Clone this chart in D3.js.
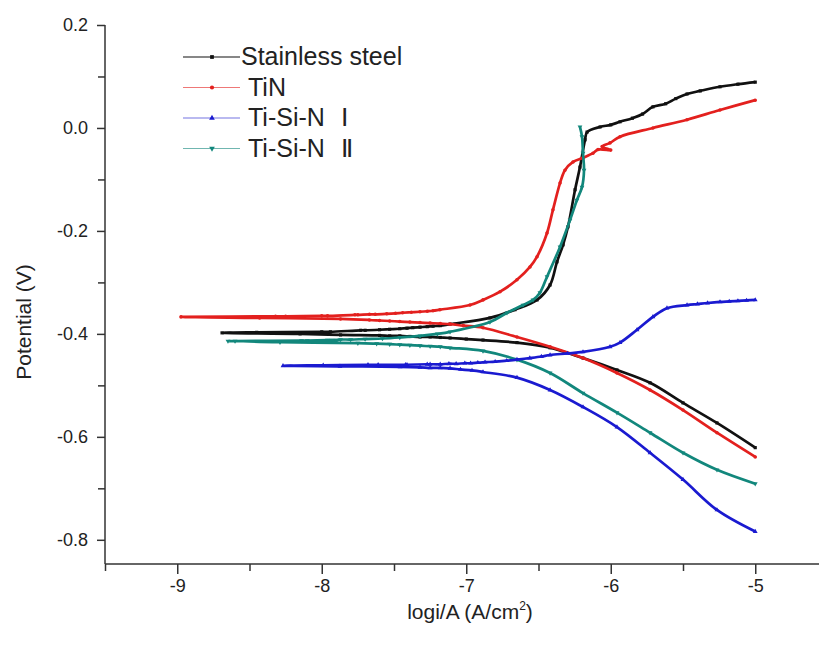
<!DOCTYPE html>
<html>
<head>
<meta charset="utf-8">
<script src="https://cdn.jsdelivr.net/npm/d3@7"></script>
<style>
  body { margin: 0; background: #fff; }
  text { font-family: "Liberation Sans", Arial, sans-serif; fill: #222; }
</style>
</head>
<body>
<svg id="chart" width="819" height="653"></svg>
<script>
// series names shown in the legend (label, roman numeral)
var names = [["Stainless steel", ""], ["TiN", ""], ["Ti-Si-N", "\u2160"], ["Ti-Si-N", "\u2161"]];

var xTicks = [-9, -8, -7, -6, -5];
var yTicks = [-0.8, -0.6, -0.4, -0.2, 0.0, 0.2];

// each curve: cathodic branch from the right end back to Ecorr, then the anodic branch
var steelLogI = [-5.00,-5.265,-5.50,-5.728,-5.957,-6.192,-6.42,-6.649,-6.884,-7.00,-7.112,-7.18,-7.25,-7.32,-7.39,-7.46,-7.53,-7.60,-7.87,-8.15,-8.69,
  -8.45,-8.00,-7.94,-7.73,-7.70,-7.60,-7.53,-7.46,-7.41,-7.37,-7.32,-7.27,-7.23,-7.18,-7.112,-6.836,-6.663,-6.51,-6.42,-6.372,-6.33,-6.296,-6.247,-6.213,-6.178,-6.164,
  -6.074,-6.00,-5.936,-5.85,-5.78,-5.708,-5.62,-5.55,-5.472,-5.38,-5.244,-5.12,-5.00];
var steelE = [-0.621,-0.573,-0.534,-0.495,-0.470,-0.447,-0.427,-0.417,-0.412,-0.410,-0.408,-0.407,-0.406,-0.406,-0.405,-0.404,-0.404,-0.403,-0.402,-0.400,-0.398,
  -0.397,-0.396,-0.396,-0.393,-0.393,-0.392,-0.391,-0.390,-0.389,-0.388,-0.387,-0.386,-0.385,-0.384,-0.381,-0.369,-0.353,-0.334,-0.305,-0.260,-0.227,-0.192,-0.120,-0.076,-0.023,-0.008,
  0.002,0.006,0.012,0.019,0.027,0.041,0.047,0.057,0.066,0.072,0.080,0.085,0.089];

var tinLogI = [-5.00,-5.265,-5.50,-5.728,-5.957,-6.192,-6.42,-6.649,-6.884,-7.02,-7.112,-7.18,-7.25,-7.32,-7.39,-7.46,-7.53,-7.60,-7.67,-7.87,-8.43,-8.974,
  -8.32,-8.25,-8.00,-7.96,-7.77,-7.75,-7.67,-7.63,-7.55,-7.49,-7.44,-7.38,-7.32,-7.27,-7.23,-7.182,-6.974,-6.884,-6.766,-6.649,-6.559,-6.51,-6.441,-6.40,-6.351,-6.317,
  -6.261,-6.192,-6.123,-6.088,-6.00,-6.06,-6.005,-5.936,-5.708,-5.472,-5.244,-5.00];
var tinE = [-0.639,-0.592,-0.548,-0.509,-0.476,-0.447,-0.425,-0.406,-0.388,-0.384,-0.381,-0.380,-0.379,-0.378,-0.377,-0.376,-0.375,-0.374,-0.373,-0.371,-0.369,-0.367,
  -0.366,-0.366,-0.365,-0.365,-0.363,-0.363,-0.362,-0.362,-0.361,-0.360,-0.359,-0.358,-0.357,-0.356,-0.355,-0.353,-0.344,-0.334,-0.318,-0.295,-0.270,-0.250,-0.204,-0.159,-0.107,-0.082,
  -0.066,-0.058,-0.049,-0.042,-0.043,-0.036,-0.029,-0.017,0.000,0.016,0.035,0.054];

var tisin1LogI = [-5.00,-5.265,-5.50,-5.728,-5.957,-6.192,-6.42,-6.649,-6.884,-6.96,-7.04,-7.112,-7.18,-7.25,-7.32,-7.458,-7.874,-8.268,
  -7.99,-7.68,-7.61,-7.42,-7.41,-7.27,-7.25,-7.18,-7.12,-7.07,-7.01,-6.97,-6.92,-6.87,-6.80,-6.72,-6.649,-6.56,-6.48,-6.42,-6.30,-6.192,
  -6.005,-5.936,-5.818,-5.708,-5.611,-5.472,-5.40,-5.33,-5.244,-5.18,-5.12,-5.06,-5.00];
var tisin1E = [-0.784,-0.742,-0.683,-0.631,-0.581,-0.542,-0.509,-0.485,-0.474,-0.471,-0.469,-0.467,-0.466,-0.466,-0.465,-0.464,-0.463,-0.462,
  -0.461,-0.460,-0.460,-0.460,-0.460,-0.459,-0.459,-0.459,-0.458,-0.458,-0.457,-0.457,-0.456,-0.455,-0.454,-0.452,-0.450,-0.447,-0.444,-0.441,-0.438,-0.435,
  -0.425,-0.417,-0.392,-0.367,-0.350,-0.344,-0.342,-0.340,-0.338,-0.337,-0.336,-0.335,-0.334];

var tisin2LogI = [-5.00,-5.265,-5.50,-5.728,-5.957,-6.192,-6.42,-6.649,-6.884,-7.112,-7.18,-7.25,-7.32,-7.39,-7.46,-7.53,-7.62,-7.75,-8.289,-8.649,
  -8.60,-8.14,-8.10,-7.96,-7.93,-7.90,-7.87,-7.80,-7.70,-7.58,-7.46,-7.32,-7.20,-7.112,-6.836,-6.718,-6.607,-6.538,-6.49,-6.441,-6.351,-6.282,-6.234,-6.199,-6.185,-6.192,-6.199,-6.213];
var tisin2E = [-0.691,-0.664,-0.631,-0.592,-0.553,-0.515,-0.476,-0.450,-0.433,-0.427,-0.425,-0.424,-0.423,-0.422,-0.421,-0.420,-0.419,-0.418,-0.416,-0.414,
  -0.414,-0.413,-0.413,-0.412,-0.412,-0.412,-0.411,-0.411,-0.410,-0.409,-0.407,-0.404,-0.400,-0.396,-0.377,-0.359,-0.344,-0.334,-0.320,-0.289,-0.231,-0.179,-0.140,-0.115,-0.082,-0.049,-0.017,0.002];

var colors = ["#111111", "#e3201e", "#1a1ad0", "#12877c"];
var symbols = [d3.symbolSquare, d3.symbolCircle, d3.symbolTriangle, d3.symbolTriangle];
var flips = [0, 0, 0, 180];

var curves = [[steelLogI, steelE], [tinLogI, tinE], [tisin1LogI, tisin1E], [tisin2LogI, tisin2E]].map(function(c) {
  return c[0].map(function(v, i) { return {x: v, y: c[1][i]}; });
});

var svg = d3.select("#chart");
var plotLeft = 105, plotTop = 25, plotBottom = 564;

var x = d3.scaleLinear().domain([-9.5, -4.5]).range([plotLeft, plotLeft + 5 * 144.5]);
var y = d3.scaleLinear().domain([-0.847, 0.2]).range([plotBottom, plotTop]);

// curves, drawn back to front
var line = d3.line()
    .curve(d3.curveCatmullRom.alpha(0.5))
    .x(function(d) { return x(d.x); })
    .y(function(d) { return y(d.y); });
[0, 1, 3, 2].forEach(function(k) {
  svg.append("path")
      .datum(curves[k])
      .attr("fill", "none")
      .attr("stroke", colors[k])
      .attr("stroke-width", 2.7)
      .attr("stroke-linejoin", "round")
      .attr("d", line);
  svg.append("g").selectAll("path")
      .data(curves[k])
    .enter().append("path")
      .attr("transform", function(d) { return "translate(" + x(d.x) + "," + y(d.y) + ") rotate(" + flips[k] + ")"; })
      .attr("d", d3.symbol().type(symbols[k]).size(10))
      .attr("fill", colors[k]);
});

// axes
var xAxis = svg.append("g")
    .attr("transform", "translate(0," + plotBottom + ")")
    .call(d3.axisBottom(x).tickValues(xTicks).tickSize(10).tickPadding(5).tickFormat(function(d) { return d.toFixed(0); }));
svg.append("g")
    .attr("transform", "translate(0," + plotBottom + ")")
    .call(d3.axisBottom(x).tickValues([-9.5, -8.5, -7.5, -6.5, -5.5]).tickSize(7).tickFormat(""))
  .select(".domain").remove();

var yAxis = svg.append("g")
    .attr("transform", "translate(" + plotLeft + ",0)")
    .call(d3.axisLeft(y).tickValues(yTicks).tickSize(8).tickPadding(9).tickFormat(function(d) { return d.toFixed(1); }));
svg.append("g")
    .attr("transform", "translate(" + plotLeft + ",0)")
    .call(d3.axisLeft(y).tickValues([-0.7, -0.5, -0.3, -0.1, 0.1]).tickSize(7).tickFormat(""))
  .select(".domain").remove();

svg.selectAll(".domain, .tick line").attr("stroke", "#333").attr("stroke-width", 1.5);
svg.selectAll(".tick text").attr("font-size", 18).attr("fill", "#222")
    .attr("font-family", "Liberation Sans, Arial, sans-serif");

xAxis.select(".domain").attr("d", "M" + plotLeft + ",0H819");
yAxis.select(".domain").attr("d", "M0," + plotTop + "V" + plotBottom);

// axis titles
var xt = svg.append("text")
    .attr("x", 470).attr("y", 619)
    .attr("text-anchor", "middle")
    .attr("font-size", 21)
    .text("logi/A (A/cm");
xt.append("tspan").attr("dy", -9).attr("font-size", 12).text("2");
xt.append("tspan").attr("dy", 9).text(")");

svg.append("text")
    .attr("transform", "translate(31,322) rotate(-90)")
    .attr("text-anchor", "middle")
    .attr("font-size", 21)
    .text("Potential (V)");

// legend
var legend = svg.append("g");
names.forEach(function(n, i) {
  var ly = 57 + i * 30.5;
  legend.append("line")
      .attr("x1", 183).attr("x2", 240).attr("y1", ly).attr("y2", ly)
      .attr("stroke", colors[i]).attr("stroke-width", 1.2).attr("opacity", i ? 0.6 : 1);
  legend.append("path")
      .attr("transform", "translate(212," + ly + ") rotate(" + flips[i] + ")")
      .attr("d", d3.symbol().type(symbols[i]).size(14))
      .attr("fill", colors[i]);
  var t = legend.append("text")
      .attr("x", i ? 248 : 241).attr("y", ly + 8)
      .attr("font-size", 25)
      .text(n[0]);
  if (n[1]) {
    t.append("tspan").attr("dx", 16)
        .attr("font-family", "Liberation Serif, serif")
        .text(n[1]);
  }
});
</script>
</body>
</html>
